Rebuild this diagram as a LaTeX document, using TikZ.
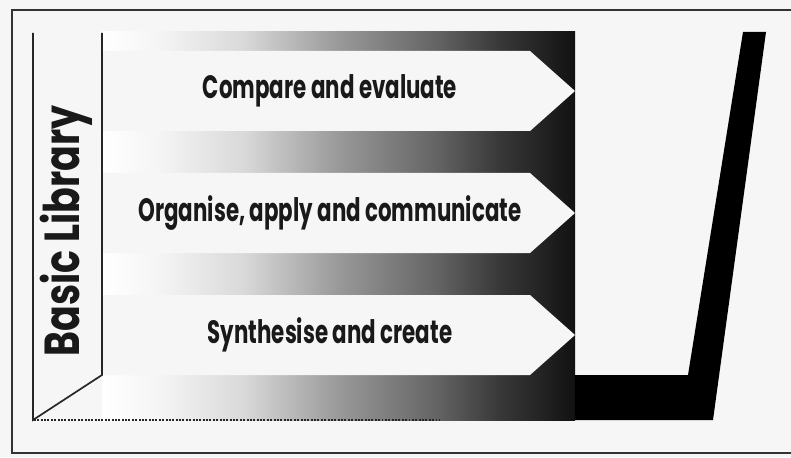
\documentclass[tikz,border=0pt]{standalone}
\usepackage{fontspec}
\setmainfont{Poppins}[FakeStretch=0.66]
\newfontfamily\sidefont{Poppins}[FakeStretch=0.77]
\definecolor{paper}{gray}{0.965}
% fade of the bands, white on the left to black at the right
\pgfdeclarehorizontalshading{bandfade}{100bp}{color(0bp)=(white); color(25bp)=(white); color(31bp)=(white!96!black); color(40bp)=(black!15); color(50bp)=(black!40); color(60bp)=(black!60); color(67bp)=(black!78); color(75bp)=(black!93); color(100bp)=(black!93)}
\tikzset{
    frameline/.style={line width=1.6pt,black!80},
    sideline/.style={line width=1.2pt,black!85},
    rowtext/.style={font=\bfseries\fontsize{23}{26}\selectfont,text=black!90,anchor=center},
}
\begin{document}
\begin{tikzpicture}
                \useasboundingbox (0,0) rectangle (19.775,11.425);
                \fill[paper] (0,0) rectangle (19.775,11.425);
                \draw[frameline] (19.775,11.175) -- (0.3,11.175) -- (0.3,0.1) -- (19.775,0.1);
                %% bands with white arrows cut into them
                \shade[shading=bandfade] (2.55,0.925) rectangle (14.375,10.625);
                \draw[sideline,line width=1.4pt,densely dotted] (0.85,0.925) -- (11,0.925);
                \foreach \y/\t/\n in {9.15/Compare and evaluate/cmp,6.1/{Organise, apply and communicate}/org,3.05/Synthesise and create/syn} {
                    \fill[paper] (2.55,\y+1) -- (13.25,\y+1) -- (14.375,\y) -- (13.25,\y-1) -- (2.55,\y-1) -- cycle;
                    \node[rowtext] (\n) at (8.25,\y) {\t};
                }
                %% the black foot and tick on the right
                \fill[black] (14.37,2.05) -- (17.2,2.05) -- (18.575,10.625) -- (19.15,10.625) -- (17.825,0.925) -- (14.37,0.925) -- cycle;
                %% Basic Library
                \draw[sideline] (0.825,10.6) -- (0.825,0.925) -- (2.55,2.05) -- (2.55,10.6);
                \node[rowtext,rotate=90,font=\sidefont\bfseries\fontsize{35}{38}\selectfont] (lib) at (1.66,5.65) {Basic Library};
            \end{tikzpicture}
\end{document}
